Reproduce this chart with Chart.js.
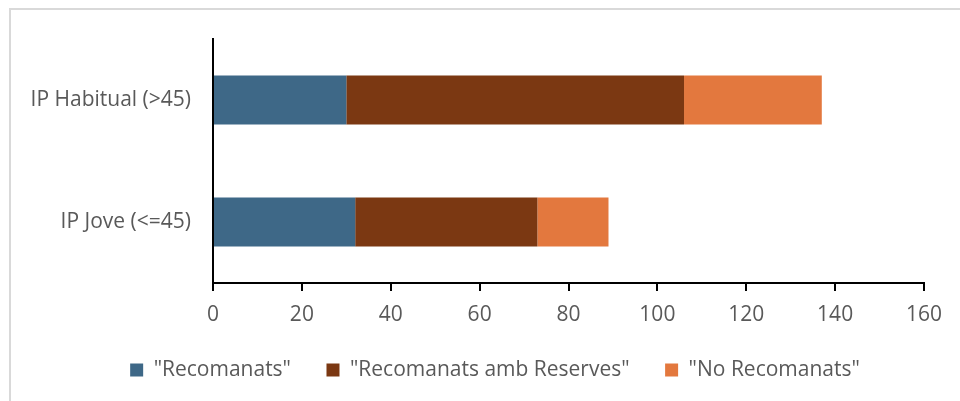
<!DOCTYPE html>
<html>
<head>
<meta charset="utf-8">
<script src="https://cdn.jsdelivr.net/npm/chart.js@4.4.1/dist/chart.umd.min.js"></script>
<style>
  html, body { margin: 0; padding: 0; background: #fff; overflow: hidden; }
  #wrap { position: relative; width: 960px; height: 401px; overflow: hidden; }
  #frame { position: absolute; left: 9px; top: 8px; width: 1200px; height: 800px;
           border: 2px solid #d9d9d9; }
  #chart { position: absolute; left: 0; top: 0; }
</style>
</head>
<body>
<div id="wrap">
  <div id="frame"></div>
  <canvas id="chart" width="960" height="401"></canvas>
</div>
<script>
const categories = ["IP Habitual (>45)", "IP Jove (<=45)"];
const seriesNames = ['"Recomanats"', '"Recomanats amb Reserves"', '"No Recomanats"'];
const recomanats = [30, 32];
const ambReserves = [76, 41];
const noRecomanats = [31, 16];
const xMax = 160;
const xStep = 20;

const colors = ["#3e6887", "#7b3812", "#e3783e"];
const textColor = "#595959";
const fontFamily = "'Open Sans', sans-serif";

const datasets = [recomanats, ambReserves, noRecomanats].map((values, i) => ({
    label: seriesNames[i],
    data: values,
    backgroundColor: colors[i],
    borderWidth: 0,
    categoryPercentage: 1.0,
    barPercentage: 0.4
}));

// Excel puts the legend a bit right of centre and closer to the axis
const legendShift = {
    id: "legendShift",
    afterLayout(chart) {
        const lg = chart.legend;
        lg.left += 28;
        lg.right += 28;
        lg.top -= 15;
        lg.bottom -= 15;
    }
};

new Chart(document.getElementById("chart"), {
    type: "bar",
    data: { labels: categories, datasets },
    options: {
        indexAxis: "y",
        responsive: false,
        animation: false,
        layout: { padding: { left: 10, right: 36, top: 39, bottom: 0 } },
        scales: {
            x: {
                stacked: true,
                min: 0,
                max: xMax,
                ticks: {
                    stepSize: xStep,
                    color: textColor,
                    font: { family: fontFamily, size: 21, lineHeight: 16 / 21 },
                    padding: 16
                },
                grid: { drawOnChartArea: false, drawTicks: true, tickLength: 8, color: "#000", lineWidth: 2 },
                border: { color: "#000", width: 2 }
            },
            y: {
                stacked: true,
                ticks: { color: textColor, font: { family: fontFamily, size: 21 }, padding: 22 },
                grid: { display: false, drawTicks: false },
                border: { color: "#000", width: 2 },
                afterFit(scale) { scale.width = 213 - 10; }
            }
        },
        plugins: {
            tooltip: { enabled: false },
            legend: {
                position: "bottom",
                maxHeight: 62,
                labels: {
                    color: textColor,
                    font: { family: fontFamily, size: 21 },
                    boxWidth: 13,
                    boxHeight: 13,
                    padding: 35.5
                }
            }
        }
    },
    plugins: [legendShift]
});
</script>
</body>
</html>
